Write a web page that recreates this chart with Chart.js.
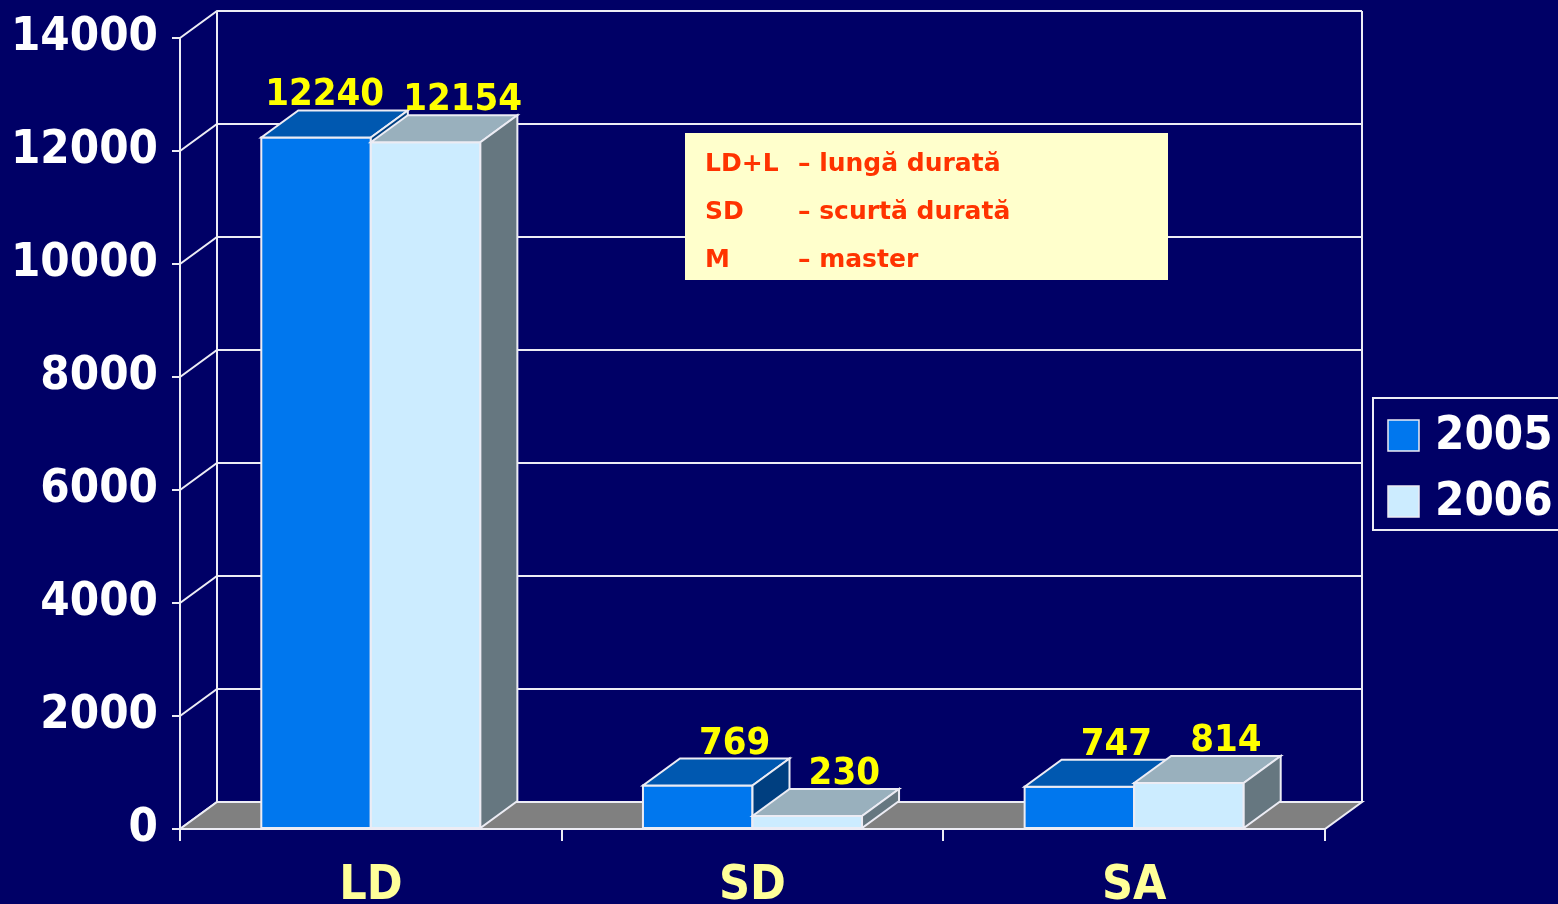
<!DOCTYPE html>
<html>
<head>
<meta charset="utf-8">
<script src="https://cdn.jsdelivr.net/npm/chart.js@4"></script>
<style>
html, body { margin: 0; padding: 0; background: #000066; }
#wrap { width: 1558px; height: 904px; }
</style>
</head>
<body>
<div id="wrap"><canvas id="grafica" width="1558" height="904"></canvas></div>
<script>
var categorii = ["LD", "SD", "SA"];
var ani = ["2005", "2006"];
var valori2005 = [12240, 769, 747];
var valori2006 = [12154, 230, 814];
var ticksY = [0, 2000, 4000, 6000, 8000, 10000, 12000, 14000];
var nota = [["LD+L", "– lungă durată"], ["SD", "– scurtă durată"], ["M", "– master"]];

var FONT = "'DejaVu Sans Condensed', 'DejaVu Sans', sans-serif";
var FONT_LAT = "'DejaVu Sans', sans-serif";
var LINIE = "#ECECF4";
var DX = 37, DY = -27;

function poly(ctx, pts, fill) {
	ctx.beginPath();
	ctx.moveTo(pts[0][0], pts[0][1]);
	for (var k = 1; k < pts.length; k++) ctx.lineTo(pts[k][0], pts[k][1]);
	ctx.closePath();
	ctx.fillStyle = fill;
	ctx.fill();
	ctx.strokeStyle = LINIE;
	ctx.lineWidth = 2;
	ctx.stroke();
}

// pereti, podea si cutii 3D
var efect3d = {
	id: 'efect3d',
	beforeDatasetsDraw: function(chart) {
		var ctx = chart.ctx, a = chart.chartArea, y = chart.scales.y;
		ctx.save();
		ctx.strokeStyle = LINIE;
		ctx.lineWidth = 2;
		ctx.beginPath();
		y.ticks.forEach(function(t) {
			var py = y.getPixelForValue(t.value);
			ctx.moveTo(a.left, py);
			ctx.lineTo(a.left + DX, py + DY);
			ctx.lineTo(a.right + DX, py + DY);
		});
		ctx.moveTo(a.left + DX, a.top + DY); ctx.lineTo(a.left + DX, a.bottom + DY);
		ctx.moveTo(a.right + DX, a.top + DY); ctx.lineTo(a.right + DX, a.bottom + DY);
		ctx.stroke();
		var b = y.getPixelForValue(0);
		poly(ctx, [[a.left, b], [a.right, b], [a.right + DX, b + DY], [a.left + DX, b + DY]], '#808080');
		ctx.restore();
	},
	afterDatasetsDraw: function(chart) {
		var ctx = chart.ctx;
		var seturi = chart.data.datasets;
		ctx.save();
		for (var j = 0; j < categorii.length; j++) {
			seturi.forEach(function(ds, i) {
				var bar = chart.getDatasetMeta(i).data[j];
				var l = bar.x - bar.width / 2, r = bar.x + bar.width / 2, t = bar.y, b = bar.base;
				poly(ctx, [[l, b], [l, t], [r, t], [r, b]], ds.backgroundColor);
				poly(ctx, [[l, t], [r, t], [r + DX, t + DY], [l + DX, t + DY]], ds.culoareSus);
				poly(ctx, [[r, t], [r + DX, t + DY], [r + DX, b + DY], [r, b]], ds.culoareLat);
			});
		}
		// etichete valori
		ctx.font = 'bold 38px ' + FONT;
		ctx.fillStyle = '#FFFF00';
		ctx.textAlign = 'center';
		ctx.textBaseline = 'alphabetic';
		for (var j = 0; j < categorii.length; j++) {
			var et = seturi.map(function(ds, i) {
				var bar = chart.getDatasetMeta(i).data[j];
				var txt = String(ds.data[j]);
				return { txt: txt, cx: bar.x + DX, w: ctx.measureText(txt).width, y: bar.y + DY - 5 };
			});
			for (var i = et.length - 2; i >= 0; i--) {
				var lim = et[i + 1].cx - et[i + 1].w / 2 - 19;
				if (et[i].cx + et[i].w / 2 > lim) et[i].cx = lim - et[i].w / 2;
			}
			et.forEach(function(e) { ctx.fillText(e.txt, e.cx, e.y); });
		}
		ctx.restore();
	},
	afterDraw: function(chart) {
		var ctx = chart.ctx;
		ctx.save();
		// caseta cu explicatii
		ctx.fillStyle = '#FFFFCC';
		ctx.fillRect(685, 133, 483, 147);
		ctx.font = 'bold 25px ' + FONT_LAT;
		ctx.fillStyle = '#FF3300';
		ctx.textBaseline = 'alphabetic';
		nota.forEach(function(n, k) {
			ctx.fillText(n[0], 705, 171 + k * 48);
			ctx.fillText(n[1], 798, 171 + k * 48);
		});
		// legenda
		ctx.strokeStyle = LINIE;
		ctx.lineWidth = 2;
		ctx.strokeRect(1373, 398, 200, 132);
		ctx.font = 'bold 47px ' + FONT;
		ctx.textBaseline = 'middle';
		chart.data.datasets.forEach(function(ds, i) {
			var yy = 420 + i * 66;
			ctx.fillStyle = ds.backgroundColor;
			ctx.fillRect(1388, yy, 31, 31);
			ctx.lineWidth = 1.5;
			ctx.strokeRect(1388, yy, 31, 31);
			ctx.fillStyle = '#FFFFFF';
			ctx.fillText(ds.label, 1435, yy + 17);
		});
		ctx.restore();
	}
};

var grafica = document.getElementById('grafica').getContext('2d');
var chart = new Chart(grafica, {
	type: 'bar',
	data: {
		labels: categorii,
		datasets: [{
			label: ani[0],
			data: valori2005,
			backgroundColor: '#0077EE',
			culoareSus: '#0058B0',
			culoareLat: '#003F80',
			borderWidth: 0
		}, {
			label: ani[1],
			data: valori2006,
			backgroundColor: '#CCECFF',
			culoareSus: '#99B0BD',
			culoareLat: '#667780',
			borderWidth: 0
		}]
	},
	options: {
		responsive: false,
		animation: false,
		categoryPercentage: 0.574,
		barPercentage: 1,
		layout: { padding: { top: 38, right: 233, left: 0, bottom: 0 } },
		plugins: {
			legend: { display: false },
			tooltip: { enabled: false }
		},
		scales: {
			x: {
				grid: { offset: true, drawOnChartArea: false, color: LINIE, lineWidth: 2, tickLength: 12 },
				border: { color: LINIE, width: 2 },
				ticks: { color: '#FFFF99', font: { family: FONT, size: 48, weight: 'bold' }, padding: 17, maxRotation: 0 },
				afterFit: function(s) { s.height = 75; }
			},
			y: {
				min: 0,
				max: 14000,
				afterBuildTicks: function(s) { s.ticks = ticksY.map(function(v) { return { value: v }; }); },
				grid: { drawOnChartArea: false, color: LINIE, lineWidth: 2, tickLength: 8 },
				border: { color: LINIE, width: 2 },
				ticks: {
					color: '#FFFFFF',
					font: { family: FONT, size: 47, weight: 'bold', lineHeight: 0.9 },
					padding: 14,
					autoSkip: false,
					callback: function(v) { return String(v); }
				},
				afterFit: function(s) { s.width = 180; }
			}
		}
	},
	plugins: [efect3d]
});
</script>
</body>
</html>
